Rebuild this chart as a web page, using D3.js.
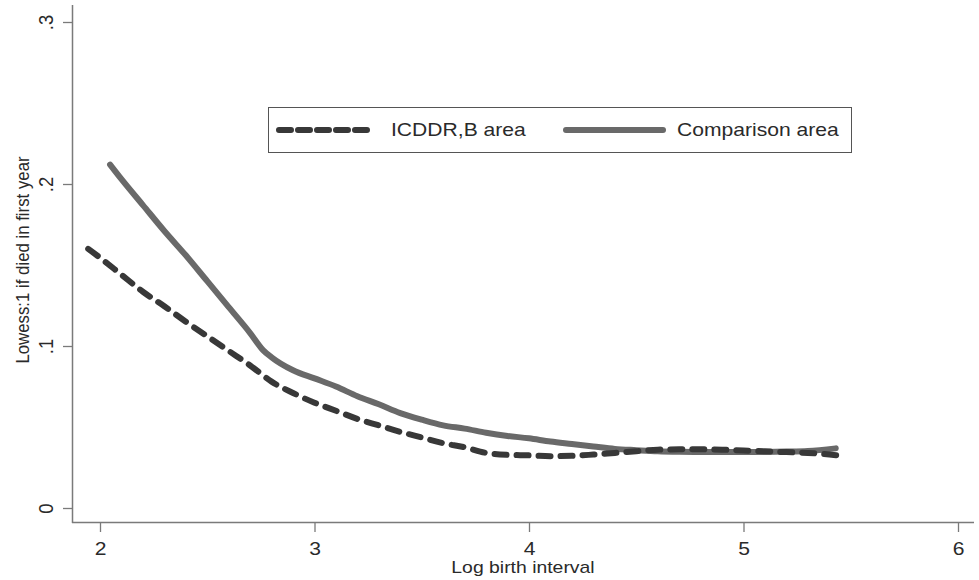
<!DOCTYPE html>
<html><head><meta charset="utf-8">
<script src="https://cdn.jsdelivr.net/npm/d3@7"></script>
<style>body{margin:0;background:#fff}svg{display:block}text{font-family:"Liberation Sans",Arial,sans-serif}</style>
</head><body><svg id="c" width="979" height="580"></svg>
<script>
const xTicks = [2, 3, 4, 5, 6];
const yTicks = [0, 0.1, 0.2, 0.3];
const yTickLabels = ["0", ".1", ".2", ".3"];
const seriesNames = ["ICDDR,B area", "Comparison area"];
const icddrX = [1.945,2.0,2.1,2.2,2.3,2.4,2.5,2.6,2.7,2.8,2.9,3.0,3.1,3.2,3.3,3.4,3.5,3.6,3.7,3.8,3.9,4.0,4.1,4.2,4.3,4.4,4.5,4.6,4.7,4.8,4.9,5.0,5.1,5.2,5.3,5.4,5.47];
const icddrY = [0.160,0.1545,0.144,0.1335,0.1245,0.115,0.106,0.097,0.088,0.078,0.071,0.065,0.060,0.055,0.051,0.047,0.0435,0.040,0.0375,0.034,0.0328,0.0325,0.032,0.0322,0.033,0.034,0.035,0.036,0.0362,0.0362,0.036,0.0355,0.035,0.0345,0.034,0.033,0.032];
const compX = [2.047,2.1,2.2,2.3,2.4,2.5,2.6,2.7,2.76,2.8,2.9,3.0,3.1,3.2,3.3,3.4,3.5,3.6,3.7,3.8,3.9,4.0,4.1,4.2,4.3,4.4,4.5,4.6,4.7,4.8,4.9,5.0,5.1,5.2,5.3,5.43];
const compY = [0.212,0.203,0.187,0.171,0.156,0.140,0.124,0.108,0.0975,0.093,0.085,0.080,0.075,0.069,0.064,0.0586,0.0545,0.051,0.049,0.0465,0.0445,0.043,0.041,0.0395,0.038,0.0365,0.0357,0.035,0.0347,0.0346,0.0345,0.0345,0.0346,0.0348,0.0352,0.0368];

const svg = d3.select("#c");
const x = d3.scaleLinear().domain([2, 6]).range([100, 958]);
const y = d3.scaleLinear().domain([0, 0.3]).range([508, 22]);
const axisCol = "#7a7a7a", textCol = "#2a2a2a";
const STRETCH = 1.14;
function stretch(sel) {
  sel.each(function () {
    const w = this.getComputedTextLength();
    d3.select(this).attr("textLength", w * STRETCH).attr("lengthAdjust", "spacingAndGlyphs");
  });
}

// axes lines
svg.append("line").attr("x1", 72.5).attr("x2", 72.5).attr("y1", 5).attr("y2", 523).attr("stroke", axisCol).attr("stroke-width", 1.5);
svg.append("line").attr("x1", 72).attr("x2", 974).attr("y1", 522.5).attr("y2", 522.5).attr("stroke", axisCol).attr("stroke-width", 1.5);

const xAxis = d3.axisBottom(x).tickValues(xTicks).tickSize(9).tickPadding(10).tickFormat(d3.format("d"));
const gx = svg.append("g").attr("transform", "translate(0,523)").call(xAxis);
gx.select(".domain").remove();
gx.selectAll("line").attr("stroke", axisCol).attr("stroke-width", 1.3);
gx.selectAll("text").attr("fill", textCol).attr("font-size", 18.5).attr("font-family", "'Liberation Sans',Arial,sans-serif").call(stretch);

const yAxis = d3.axisLeft(y).tickValues(yTicks).tickSize(9).tickFormat((d, i) => yTickLabels[i]);
const gy = svg.append("g").attr("transform", "translate(72,0)").call(yAxis);
gy.select(".domain").remove();
gy.selectAll("line").attr("stroke", axisCol).attr("stroke-width", 1.3);
gy.selectAll("text").attr("fill", textCol).attr("font-size", 18.5).attr("font-family", "'Liberation Sans',Arial,sans-serif")
  .attr("x", 0).attr("dy", 0).attr("text-anchor", "middle")
  .attr("transform", "translate(-19,0) scale(" + STRETCH + ",1) rotate(-90)");

// titles
svg.append("text").attr("x", 523).attr("y", 572.5).attr("text-anchor", "middle").attr("font-size", 17).attr("fill", textCol).text("Log birth interval").call(stretch);
svg.append("text").attr("transform", "translate(29,260) scale(" + STRETCH + ",1) rotate(-90)").attr("text-anchor", "middle").attr("font-size", 16.8).attr("fill", textCol).text("Lowess:1 if died in first year");

const line = d3.line().x(d => x(d[0])).y(d => y(d[1])).curve(d3.curveMonotoneX);
const icddr = icddrX.map((v, i) => [v, icddrY[i]]);
const comp = compX.map((v, i) => [v, compY[i]]);
const dashCol = "#383838", solidCol = "#696969";

svg.append("path").datum(comp).attr("d", line).attr("fill", "none").attr("stroke", solidCol).attr("stroke-width", 6).attr("stroke-linecap", "round");
svg.append("path").datum(icddr).attr("d", line).attr("fill", "none").attr("stroke", dashCol).attr("stroke-width", 6).attr("stroke-linecap", "round").attr("stroke-dasharray", "12,10");

// legend
const lg = svg.append("g");
lg.append("rect").attr("x", 268.5).attr("y", 107.5).attr("width", 583).attr("height", 45).attr("fill", "#fff").attr("stroke", "#555").attr("stroke-width", 1);
lg.append("line").attr("x1", 279).attr("x2", 373).attr("y1", 130).attr("y2", 130).attr("stroke", dashCol).attr("stroke-width", 6).attr("stroke-linecap", "round").attr("stroke-dasharray", "12,7");
lg.append("text").attr("x", 391).attr("y", 136).attr("font-size", 18.5).attr("fill", textCol).text(seriesNames[0]).call(stretch);
lg.append("line").attr("x1", 566).attr("x2", 663).attr("y1", 130).attr("y2", 130).attr("stroke", solidCol).attr("stroke-width", 6).attr("stroke-linecap", "round");
lg.append("text").attr("x", 677).attr("y", 136).attr("font-size", 18.5).attr("fill", textCol).text(seriesNames[1]).call(stretch);
</script></body></html>
